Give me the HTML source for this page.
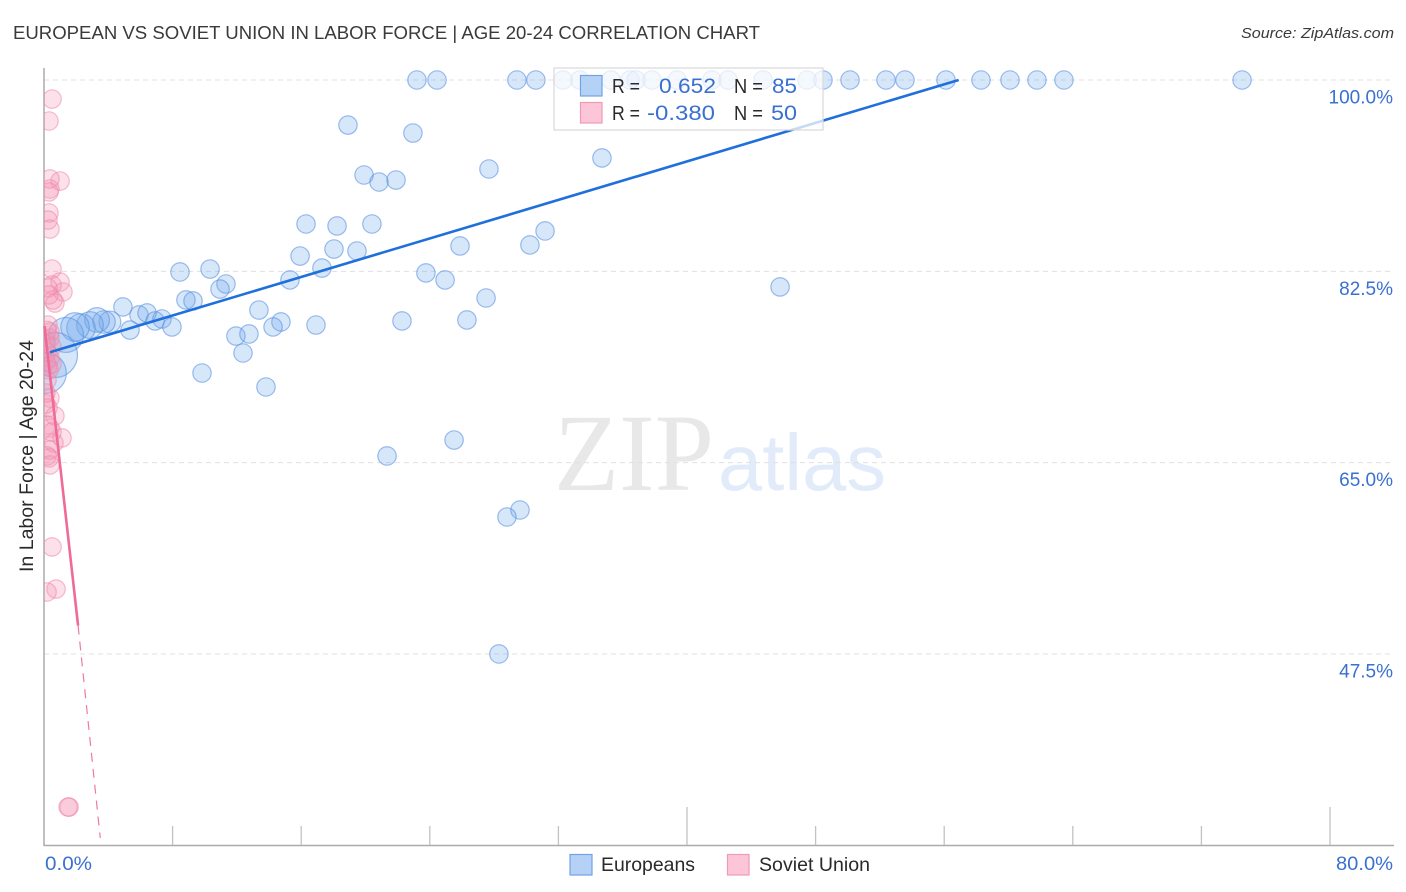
<!DOCTYPE html>
<html lang="en">
<head>
<meta charset="utf-8">
<title>European vs Soviet Union in Labor Force | Age 20-24 Correlation Chart</title>
<style>
html,body{margin:0;padding:0;background:#fff;}
svg{display:block;font-family:"Liberation Sans",sans-serif;}
</style>
</head>
<body>
<svg id="chart" xmlns="http://www.w3.org/2000/svg" width="1406" height="892" viewBox="0 0 1406 892">
  <defs>
    <clipPath id="plot-clip"><rect x="44" y="60" width="1350" height="785"></rect></clipPath>
  </defs>
  <text x="13" y="39" font-size="18" fill="#3a3a3a" textLength="747" lengthAdjust="spacingAndGlyphs">EUROPEAN VS SOVIET UNION IN LABOR FORCE | AGE 20-24 CORRELATION CHART</text>
  <text x="1394" y="38" font-size="15" font-style="italic" fill="#3a3a3a" text-anchor="end" textLength="153" lengthAdjust="spacingAndGlyphs">Source: ZipAtlas.com</text>
  <g>
    <text x="554" y="490" font-family="'Liberation Serif',serif" font-size="110" fill="#e8e8e8" textLength="160" lengthAdjust="spacingAndGlyphs">ZIP</text>
    <text x="718" y="490" font-size="80" fill="#e2ebf9" textLength="168" lengthAdjust="spacingAndGlyphs">atlas</text>
  </g>
  <g id="grid"></g>
  <g id="axes"></g>
  <g id="points" clip-path="url(#plot-clip)"></g>
  <g id="trends"></g>
  <text transform="translate(33,572) rotate(-90)" font-size="19" fill="#2a2a2a" textLength="232" lengthAdjust="spacingAndGlyphs">In Labor Force | Age 20-24</text>
  <g>
    <rect x="554" y="68" width="269" height="62" fill="#fff" fill-opacity="0.74" stroke="#d8d8d8" stroke-width="1.2"></rect>
    <rect x="580.5" y="75.5" width="21.5" height="20.5" fill="#b5d2f6" stroke="#6fa3e6" stroke-width="1.2"></rect>
    <rect x="580.5" y="102.5" width="21.5" height="20.5" fill="#fcc6d8" stroke="#f09ab5" stroke-width="1.2"></rect>
    <text x="612" y="93" font-size="20" fill="#2a2a2a" textLength="28" lengthAdjust="spacingAndGlyphs">R =</text>
    <text x="716" y="93" font-size="21" fill="#3a70d0" text-anchor="end" textLength="57" lengthAdjust="spacingAndGlyphs">0.652</text>
    <text x="734" y="93" font-size="20" fill="#2a2a2a" textLength="29" lengthAdjust="spacingAndGlyphs">N =</text>
    <text x="797" y="93" font-size="21" fill="#3a70d0" text-anchor="end" textLength="25" lengthAdjust="spacingAndGlyphs">85</text>
    <text x="612" y="120" font-size="20" fill="#2a2a2a" textLength="28" lengthAdjust="spacingAndGlyphs">R =</text>
    <text x="715" y="120" font-size="21" fill="#3a70d0" text-anchor="end" textLength="68" lengthAdjust="spacingAndGlyphs">-0.380</text>
    <text x="734" y="120" font-size="20" fill="#2a2a2a" textLength="29" lengthAdjust="spacingAndGlyphs">N =</text>
    <text x="797" y="120" font-size="21" fill="#3a70d0" text-anchor="end" textLength="26" lengthAdjust="spacingAndGlyphs">50</text>
  </g>
  <g>
    <rect x="570" y="854.5" width="22" height="20.5" fill="#b5d2f6" stroke="#6fa3e6" stroke-width="1.2"></rect>
    <text x="601" y="871" font-size="19.5" fill="#2a2a2a" textLength="94" lengthAdjust="spacingAndGlyphs">Europeans</text>
    <rect x="727.5" y="854.5" width="21.5" height="20.5" fill="#fcc6d8" stroke="#f09ab5" stroke-width="1.2"></rect>
    <text x="759" y="871" font-size="19.5" fill="#2a2a2a" textLength="111" lengthAdjust="spacingAndGlyphs">Soviet Union</text>
  </g>
</svg>
<script>
const xTickValues = [0, 8, 16, 24, 32, 40, 48, 56, 64, 72, 80];
const xTallTicks = [40, 80];
const xTickLabels = ['0.0%', '80.0%'];
const yTickValues = [100, 82.5, 65, 47.5];
const yTickLabels = ['100.0%', '82.5%', '65.0%', '47.5%'];

const europeanX = [23.2,24.45,29.42,30.6,32.29,33.34,35.27,36.45,36.83,37.82,39.38,41.55,42.55,44.73,47.47,48.46,50.14,52.38,53.56,56.11,58.29,60.09,61.77,63.45,74.53,
  18.91,22.95,27.68,34.71,19.91,20.84,21.9,16.3,18.23,20.4,31.17,30.23,25.88,18.04,19.47,15.93,17.29,8.46,10.33,11.32,10.95,15.3,23.76,24.95,27.5,45.79,8.83,9.27,13.37,22.27,26.31,16.92,14.74,14.25,11.94,12.75,12.38,9.83,13.81,25.51,21.34,29.61,28.8,28.3,
  4.91,5.91,6.41,7.34,6.91,7.96,5.35,4.1,3.73,3.3,2.86,2.3,1.93,1.37,0.68,0.12];
const europeanY = [100,100,100,100,100,100,100,100,100,100,100,100,100,100,100,100,100,100,100,100,100,100,100,100,100,
  95.88,95.15,91.86,92.87,91.31,90.67,90.85,86.83,86.65,86.83,86.19,84.91,84.82,84.54,84.36,83.9,82.8,82.44,82.71,81.34,80.88,81.71,82.35,81.71,80.06,81.07,79.88,79.79,78.96,77.96,78.05,77.59,77.87,77.41,76.58,76.77,75.03,73.2,71.92,67.07,65.61,60.67,60.03,47.5,
  79.24,78.51,78.69,78.14,77.96,77.41,77.13,77.87,77.87,78.05,77.59,77.32,77.41,76.68,74.85,73.2];
const europeanWeight = [1,1,1,1,1,1,1,1,1,1,1,1,1,1,1,1,1,1,1,1,1,1,1,1,1,
  1,1,1,1,1,1,1,1,1,1,1,1,1,1,1,1,1,1,1,1,1,1,1,1,1,1,1,1,1,1,1,1,1,1,1,1,1,1,1,1,1,1,1,1,
  1,1,1,1,1,1,1,1.4,1.5,1.8,2.1,2.4,2.4,3.6,6,4.9];

const sovietX = [0.5,0.31,1,0.37,0.37,0.31,0.31,0.25,0.37,0.5,1,0.5,1.18,0.25,0.31,0.68,0.56,
  0.25,0.37,0.12,0.5,0.19,0.37,0.12,0.25,0.5,0.19,0.37,0.12,0.25,0.68,0.19,0.37,0.5,1.12,0.62,0.37,0.19,0.31,0.37,
  0.5,0.75,0.19,1.56,1.5,0.12,0.31,0.12,0.37,0.19];
const sovietY = [98.26,96.25,90.76,90.95,90.03,89.76,87.84,87.19,86.37,82.71,81.52,81.25,80.61,80.98,80.34,79.6,79.88,
  77.59,76.95,76.22,75.58,75.12,74.57,74.21,73.84,74.02,72.56,70.91,70.37,70,69.27,68.44,68.17,67.8,67.26,66.8,66.16,65.61,65.43,64.79,
  57.29,53.44,53.17,33.5,33.5,75.85,73.48,71.37,76.4,77.1];

const europeanTrendX = [0.37, 56.9];
const europeanTrendY = [75.1, 100];
const sovietTrendX = [0.03, 2.12];
const sovietTrendY = [77.5, 50.1];
const sovietDashX = [2.12, 3.5];
const sovietDashY = [50.1, 30.67];

const SVGNS = 'http://www.w3.org/2000/svg';
function xScale(v) { return 44 + v * 16.075; }
function yScale(v) { return 80 + (100 - v) * 10.933; }
function rScale(w) { return 9.2 * Math.sqrt(w); }
function make(tag, attrs, parent) {
  const el = document.createElementNS(SVGNS, tag);
  for (const k in attrs) el.setAttribute(k, attrs[k]);
  parent.appendChild(el);
  return el;
}

const grid = document.getElementById('grid');
const axes = document.getElementById('axes');
const points = document.getElementById('points');
const trends = document.getElementById('trends');

yTickValues.forEach(function (v, i) {
  const line = make('line', {x1: 44, x2: 1394, y1: yScale(v), y2: yScale(v), stroke: '#e0e0e0', 'stroke-width': 1, 'stroke-dasharray': '5 4'}, grid);
  
  
  const label = make('text', {x: 1393, y: yScale(v) + 23.5, 'font-size': 19, fill: '#3a70d0', 'text-anchor': 'end'}, axes);
  
  
  label.textContent = yTickLabels[i];
});

const yAxis = make('line', {x1: 44, x2: 44, y1: 68, y2: 846, stroke: '#ababab', 'stroke-width': 1.5}, axes);


const xAxis = make('line', {x1: 44, x2: 1394, y1: 845.5, y2: 845.5, stroke: '#ababab', 'stroke-width': 1.5}, axes);



xTickValues.slice(1).forEach(function (v) {
  const tall = xTallTicks.indexOf(v) >= 0;
  const tick = make('line', {x1: xScale(v), x2: xScale(v), y1: tall ? 807 : 826, y2: 845, stroke: '#c2c2c2', 'stroke-width': 1.3}, axes);
  
  
});

const xLabelLow = make('text', {x: 45, y: 870, 'font-size': 19, fill: '#3a70d0', textLength: 47, lengthAdjust: 'spacingAndGlyphs'}, axes);


xLabelLow.textContent = xTickLabels[0];
const xLabelHigh = make('text', {x: 1393, y: 870, 'font-size': 19, fill: '#3a70d0', 'text-anchor': 'end', textLength: 57, lengthAdjust: 'spacingAndGlyphs'}, axes);


xLabelHigh.textContent = xTickLabels[1];

europeanX.forEach(function (v, i) {
  const c = make('circle', {cx: xScale(v), cy: yScale(europeanY[i]), r: rScale(europeanWeight[i]), fill: '#6ba5ec', 'fill-opacity': 0.27, stroke: '#5b93e0', 'stroke-opacity': 0.6, 'stroke-width': 1.2}, points);
  
  
});
sovietX.forEach(function (v, i) {
  const c = make('circle', {cx: xScale(v), cy: yScale(sovietY[i]), r: 9.2, fill: '#f58fb0', 'fill-opacity': 0.27, stroke: '#ee86a8', 'stroke-opacity': 0.55, 'stroke-width': 1.2}, points);
  
  
});

const blueTrend = make('line', {x1: xScale(europeanTrendX[0]), y1: yScale(europeanTrendY[0]), x2: xScale(europeanTrendX[1]), y2: yScale(europeanTrendY[1]), stroke: '#1f6fdc', 'stroke-width': 2.6}, trends);


const pinkTrend = make('line', {x1: xScale(sovietTrendX[0]), y1: yScale(sovietTrendY[0]), x2: xScale(sovietTrendX[1]), y2: yScale(sovietTrendY[1]), stroke: '#ee6a99', 'stroke-width': 2.6}, trends);


const pinkDash = make('line', {x1: xScale(sovietDashX[0]), y1: yScale(sovietDashY[0]), x2: xScale(sovietDashX[1]), y2: yScale(sovietDashY[1]), stroke: '#ee7aa2', 'stroke-width': 1.2, 'stroke-dasharray': '9 7'}, trends);


</script>
</body>
</html>
